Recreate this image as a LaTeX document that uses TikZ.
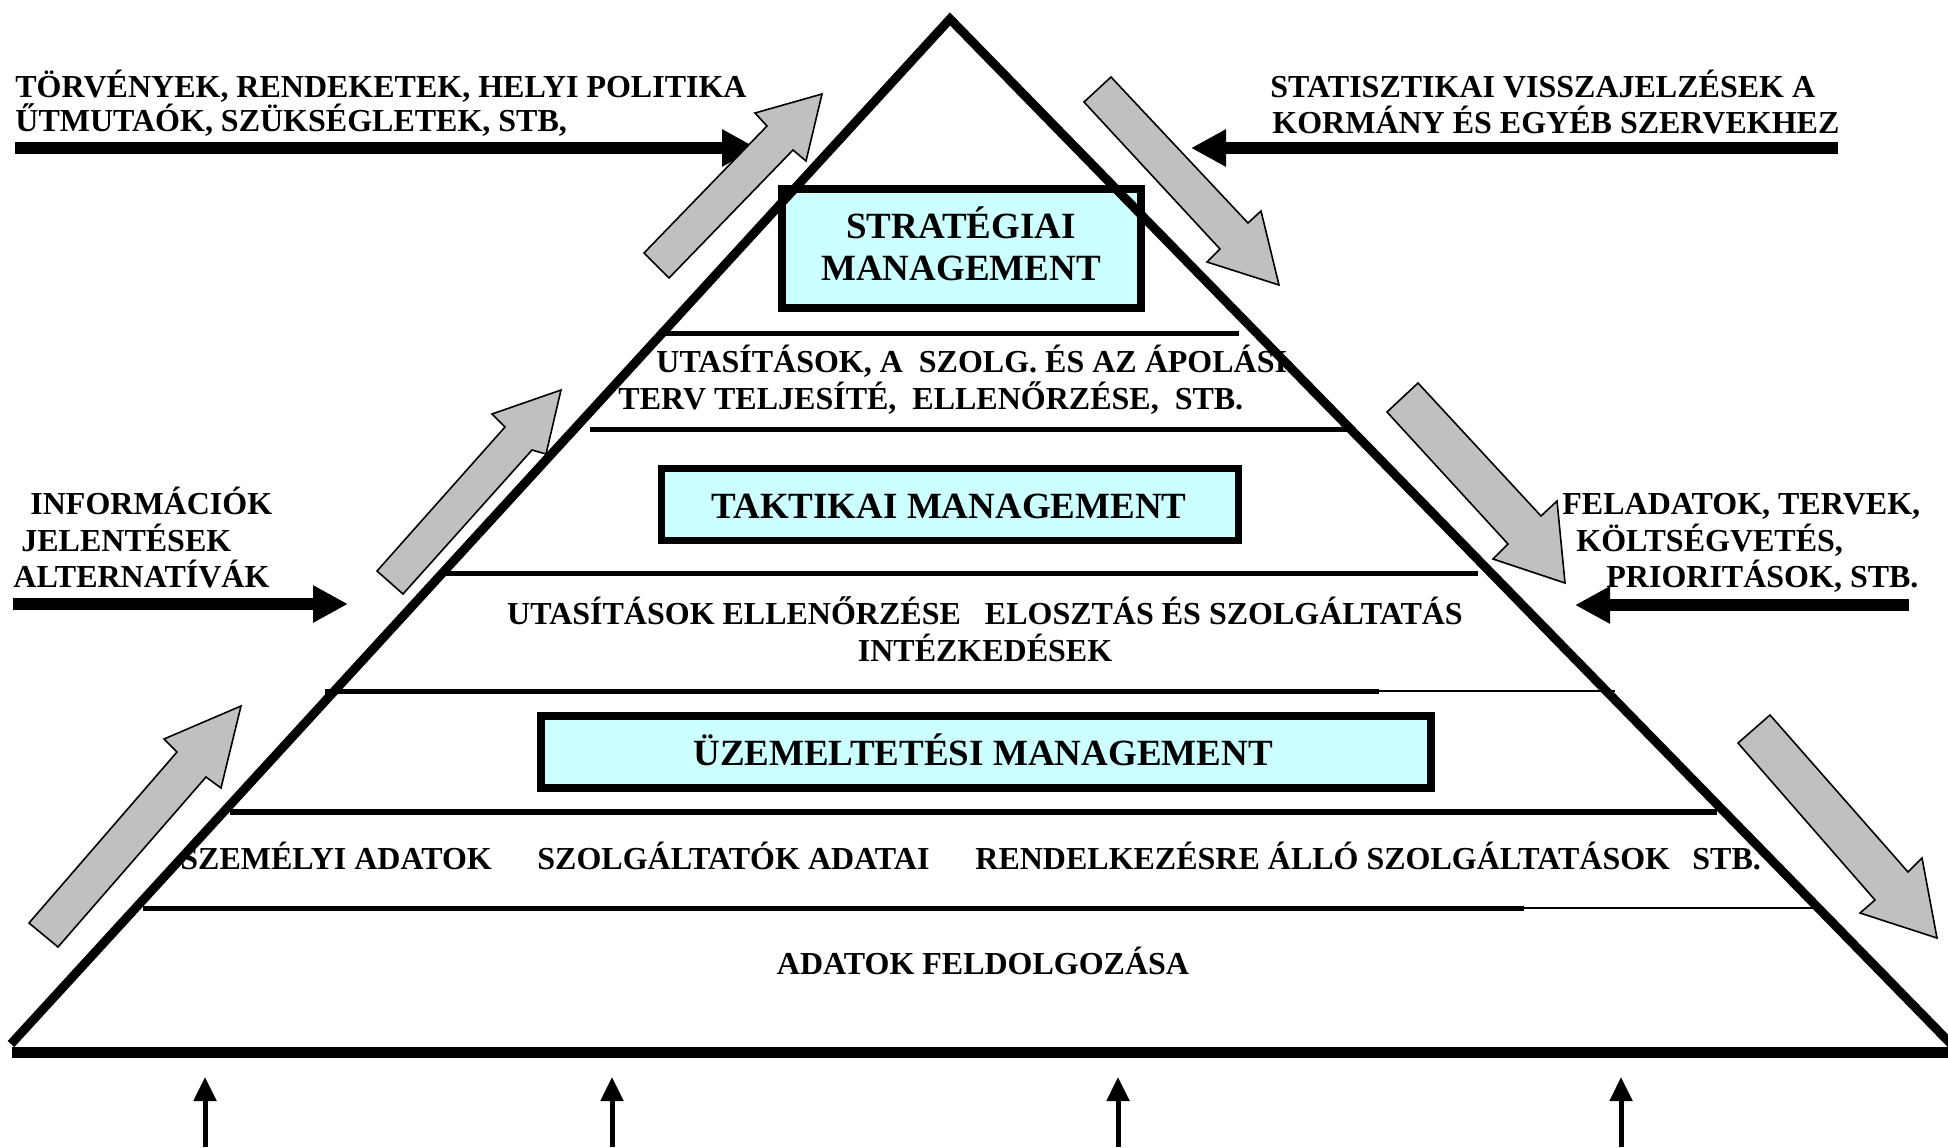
\documentclass[tikz,border=0pt]{standalone}
\usepackage{fontspec}
\setmainfont{Liberation Serif}
\usetikzlibrary{arrows.meta}
\definecolor{boxcyan}{RGB}{204,255,255}
\definecolor{arrowgray}{RGB}{192,192,192}
\begin{document}
\begin{tikzpicture}[x=0.5pt,y=-0.5pt,
  txt/.style={inner sep=0pt, font=\fontsize{16}{18}\selectfont\bfseries},
  boxtxt/.style={inner sep=0pt, font=\fontsize{18.5}{20}\selectfont\bfseries},
  mbox/.style={draw, line width=3.75pt, fill=boxcyan, inner sep=0pt},
  tier/.style={line width=2.5pt},
  thinline/.style={line width=0.6pt},
  blkarrow/.style={line width=6pt, -{Triangle[length=17.5pt,width=17.5pt]}},
  basearrow/.style={line width=2.5pt, -{Triangle[length=12pt,width=11pt]}},
  grayarrow/.style={fill=arrowgray, draw, line width=0.8pt, line join=miter},
]
\useasboundingbox (0,0) rectangle (1948,1147);

% tier lines
\draw[tier] (665,333) -- (1239,333);
\draw[tier] (590,429) -- (1348,429);
\draw[tier] (445,573) -- (1478,573);
\draw[tier] (325,691) -- (1379,691);
\draw[thinline] (1379,691) -- (1615,691);
\draw[line width=3pt] (230,812) -- (1717,812);
\draw[tier] (143,908) -- (1524,908);
\draw[thinline] (1524,908) -- (1816,908);

% management boxes
\node[mbox, minimum width=179.5pt, minimum height=59.5pt] (sbox) at (961.5,248.5) {};
\node[mbox, minimum width=288.5pt, minimum height=36pt] (tbox) at (950,504.5) {};
\node[mbox, minimum width=445pt, minimum height=36pt] (ubox) at (986,752) {};
\node[boxtxt, anchor=base] (stxt1) at (961,238) {STRATÉGIAI};
\node[boxtxt, anchor=base] (stxt2) at (961,280) {MANAGEMENT};
\node[boxtxt, anchor=base] (ttxt) at (949,518) {TAKTIKAI MANAGEMENT};
\node[boxtxt, anchor=base] (utxt) at (983,765) {ÜZEMELTETÉSI MANAGEMENT};

% texts inside pyramid
\node[txt, anchor=base west] (p1a) at (656,372) {UTASÍTÁSOK, A\ \ SZOLG. ÉS AZ ÁPOLÁSI};
\node[txt, anchor=base west] (p1b) at (618,409) {TERV TELJESÍTÉ,\ \ ELLENŐRZÉSE,\ \ STB.};
\node[txt, anchor=base] (p2a) at (985,624) {UTASÍTÁSOK ELLENŐRZÉSE\ \ \ ELOSZTÁS ÉS SZOLGÁLTATÁS};
\node[txt, anchor=base] (p2b) at (985,661) {INTÉZKEDÉSEK};
\node[txt, anchor=base west] (p3a) at (180,869) {SZEMÉLYI ADATOK};
\node[txt, anchor=base west] (p3b) at (537,869) {SZOLGÁLTATÓK ADATAI};
\node[txt, anchor=base west] (p3c) at (975,869) {RENDELKEZÉSRE ÁLLÓ SZOLGÁLTATÁSOK};
\node[txt, anchor=base west] (p3d) at (1692,869) {STB.};
\node[txt, anchor=base] (p4) at (983,974) {ADATOK FELDOLGOZÁSA};

% outside texts
\node[txt, anchor=base west] (l1a) at (15,97) {TÖRVÉNYEK, RENDEKETEK, HELYI POLITIKA};
\node[txt, anchor=base west] (l1b) at (15,131) {ŰTMUTAÓK, SZÜKSÉGLETEK, STB,};
\node[txt, anchor=base west] (r1a) at (1270,97) {STATISZTIKAI VISSZAJELZÉSEK A};
\node[txt, anchor=base west] (r1b) at (1272,133) {KORMÁNY ÉS EGYÉB SZERVEKHEZ};
\node[txt, anchor=base west] (l2a) at (30,514) {INFORMÁCIÓK};
\node[txt, anchor=base west] (l2b) at (21,551) {JELENTÉSEK};
\node[txt, anchor=base west] (l2c) at (13,587) {ALTERNATÍVÁK};
\node[txt, anchor=base west] (r2a) at (1562,514) {FELADATOK, TERVEK,};
\node[txt, anchor=base west] (r2b) at (1576,551) {KÖLTSÉGVETÉS,};
\node[txt, anchor=base west] (r2c) at (1606,587) {PRIORITÁSOK, STB.};

% black arrows
\coordinate (a1s) at (15,148);   \coordinate (a1e) at (757,148);
\coordinate (a2s) at (1838,148); \coordinate (a2e) at (1191,148);
\coordinate (a3s) at (13,604);   \coordinate (a3e) at (348,604);
\coordinate (a4s) at (1909,605); \coordinate (a4e) at (1575,605);
\draw[blkarrow] (a1s) -- (a1e);
\draw[blkarrow] (a2s) -- (a2e);
\draw[blkarrow] (a3s) -- (a3e);
\draw[blkarrow] (a4s) -- (a4e);

\coordinate (b1s) at (205,1147);  \coordinate (b1e) at (205,1077);
\coordinate (b2s) at (612,1147);  \coordinate (b2e) at (612,1077);
\coordinate (b3s) at (1118,1147); \coordinate (b3e) at (1118,1077);
\coordinate (b4s) at (1621,1147); \coordinate (b4e) at (1621,1077);
\draw[basearrow] (b1s) -- (b1e);
\draw[basearrow] (b2s) -- (b2e);
\draw[basearrow] (b3s) -- (b3e);
\draw[basearrow] (b4s) -- (b4e);

% pyramid outline
\draw[line width=4.5pt, line join=miter] (11,1044) -- (950,19) -- (1954,1047);
\draw[line width=5.5pt] (12,1052) -- (1948,1052);

% gray block arrows
\draw[grayarrow] (644,253) -- (767,126) -- (755,113) -- (822,94) -- (806,161) -- (793,150) -- (669,278) -- cycle;
\draw[grayarrow] (1084,102) -- (1111,77) -- (1248,223) -- (1261,211) -- (1279,285) -- (1207,262) -- (1220,249) -- cycle;
\draw[grayarrow] (377,571) -- (505,427) -- (492,414) -- (561,390) -- (546,454) -- (532,450) -- (403,594) -- cycle;
\draw[grayarrow] (1387,412) -- (1418,383) -- (1541,516) -- (1557,501) -- (1565,583) -- (1493,559) -- (1508,544) -- cycle;
\draw[grayarrow] (29,923) -- (177,752) -- (164,739) -- (241,706) -- (221,788) -- (206,777) -- (58,947) -- cycle;
\draw[grayarrow] (1738,743) -- (1770,715) -- (1908,872) -- (1922,858) -- (1937,938) -- (1860,913) -- (1875,900) -- cycle;
\end{tikzpicture}
\end{document}
